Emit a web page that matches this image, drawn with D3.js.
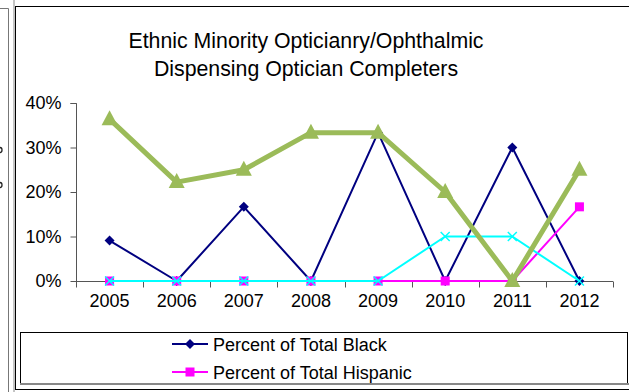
<!DOCTYPE html>
<html>
<head>
<meta charset="utf-8">
<script src="https://cdn.jsdelivr.net/npm/d3@7"></script>
<style>
  html, body { margin: 0; padding: 0; background: #fff; }
  svg { display: block; font-family: "Liberation Sans", Arial, sans-serif; }
</style>
</head>
<body>
<svg id="chart" width="629" height="392"></svg>
<script>
const years = ["2005", "2006", "2007", "2008", "2009", "2010", "2011", "2012"];
const black    = [0.0909, 0, 0.1667, 0, 0.3333, 0, 0.30, 0];
const hispanic = [0, 0, 0, 0, 0, 0, 0, 0.1667];
const asian    = [0, 0, 0, 0, 0, 0.10, 0.10, 0];
const minority = [0.3636, 0.2222, 0.25, 0.3333, 0.3333, 0.20, 0, 0.25];
const yTicks = [0, 0.1, 0.2, 0.3, 0.4];
const legendNames = ["Percent of Total Black", "Percent of Total Hispanic"];
const titleLines = ["Ethnic Minority Opticianry/Ophthalmic", "Dispensing Optician Completers"];

const svg = d3.select("#chart");

// neighbouring chart sliver on the left
svg.append("line").attr("x1", 0).attr("x2", 8.5).attr("y1", 8.5).attr("y2", 8.5).attr("stroke", "#777").attr("stroke-width", 1);
svg.append("line").attr("x1", 8.5).attr("x2", 8.5).attr("y1", 8.5).attr("y2", 392).attr("stroke", "#777").attr("stroke-width", 1);
[150, 185].forEach(yy => svg.append("path")
  .attr("d", `M0,${yy - 2.5}A2,2.5 0 0 1 0,${yy + 2.5}`)
  .attr("fill", "none").attr("stroke", "#222").attr("stroke-width", 1.3));
svg.append("line").attr("x1", 14).attr("x2", 14).attr("y1", 0).attr("y2", 392).attr("stroke", "#888").attr("stroke-width", 1);

// chart border
svg.append("rect").attr("x", 15.5).attr("y", 6.5).attr("width", 640).attr("height", 383)
  .attr("fill", "#fff").attr("stroke", "#000").attr("stroke-width", 1);

// title
svg.append("g").selectAll("text").data(titleLines).join("text")
  .attr("x", 306).attr("y", (d, i) => 48 + i * 27.5)
  .attr("text-anchor", "middle").attr("font-size", 21.3).attr("fill", "#000")
  .text(d => d);

const x = d3.scaleBand().domain(years).range([76, 613]).padding(0);
const y = d3.scaleLinear().domain([0, 0.4]).range([281, 103]);
const cx = d => x(d) + x.bandwidth() / 2;

// y axis
const yAxis = svg.append("g").attr("transform", "translate(76.5,0)")
  .call(d3.axisLeft(y).tickValues(yTicks).tickFormat(d3.format(".0%")).tickSize(6).tickPadding(9));
yAxis.select(".domain").attr("stroke", "#555").attr("d", "M-6," + (y(0.4) + 0.5) + "H0V" + y(0));
yAxis.selectAll(".tick line").attr("stroke", "#555");
yAxis.selectAll(".tick text").attr("font-size", 18).attr("fill", "#000").attr("font-family", "Liberation Sans, Arial, sans-serif");

// x axis
const xAxis = svg.append("g").attr("transform", "translate(0,281.5)")
  .call(d3.axisBottom(x).tickSize(0).tickPadding(13));
xAxis.select(".domain").attr("stroke", "#555").attr("d", "M76,0H613");
xAxis.selectAll(".tick text").attr("font-size", 18).attr("fill", "#000").attr("font-family", "Liberation Sans, Arial, sans-serif");
xAxis.append("g").selectAll("line").data(d3.range(years.length + 1)).join("line")
  .attr("x1", i => Math.round(76 + i * x.bandwidth()) + 0.5)
  .attr("x2", i => Math.round(76 + i * x.bandwidth()) + 0.5)
  .attr("y1", 0).attr("y2", 6).attr("stroke", "#555");

const line = d3.line().x((d, i) => cx(years[i])).y(d => y(d));

function drawSeries(values, color, width, marker) {
  const g = svg.append("g");
  g.append("path").datum(values).attr("d", line).attr("fill", "none")
    .attr("stroke", color).attr("stroke-width", width).attr("stroke-linejoin", "round");
  const pts = g.selectAll("g.m").data(values).join("g")
    .attr("transform", (d, i) => `translate(${cx(years[i])},${y(d)})`);
  marker(pts);
}

const diamond = sel => sel.append("path").attr("d", "M0,-5L5,0L0,5L-5,0Z").attr("fill", "#000080");
const square = color => sel => sel.append("rect").attr("x", -4.5).attr("y", -4.5).attr("width", 9).attr("height", 9).attr("fill", color);
const cross = color => sel => sel.append("path").attr("d", "M-4.5,-4.5L4.5,4.5M-4.5,4.5L4.5,-4.5").attr("stroke", color).attr("stroke-width", 1.5);
const tri = color => sel => sel.append("path").attr("d", "M0,-9L8,6L-8,6Z").attr("fill", color);

drawSeries(black, "#000080", 2, diamond);
drawSeries(hispanic, "#FF00FF", 2, square("#FF00FF"));
drawSeries(asian, "#00FFFF", 2, cross("#00FFFF"));
drawSeries(minority, "#9BBB59", 5, tri("#9BBB59"));

// legend (only the rows visible inside the box)
svg.append("rect").attr("x", 20.5).attr("y", 332.5).attr("width", 607).attr("height", 51)
  .attr("fill", "#fff").attr("stroke", "#000").attr("stroke-width", 1);
const legColors = ["#000080", "#FF00FF"];
const legMarkers = [diamond, square("#FF00FF")];
const rows = svg.append("g").selectAll("g").data(legendNames).join("g")
  .attr("transform", (d, i) => `translate(0,${344 + i * 28})`);
rows.append("line").attr("x1", 172).attr("x2", 208).attr("y1", 0).attr("y2", 0)
  .attr("stroke", (d, i) => legColors[i]).attr("stroke-width", 2);
rows.each(function(d, i) {
  legMarkers[i](d3.select(this).append("g").attr("transform", "translate(190,0)"));
});
rows.append("text").attr("x", 213).attr("y", 6.5).attr("font-size", 18).attr("fill", "#000").text(d => d);

// bottom edge (gray)
svg.append("line").attr("x1", 20).attr("x2", 629).attr("y1", 384).attr("y2", 384).attr("stroke", "#888").attr("stroke-width", 2);
</script>
</body>
</html>
